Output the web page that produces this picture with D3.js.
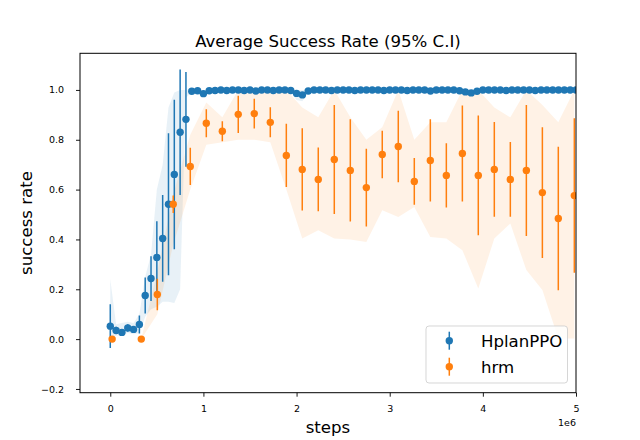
<!DOCTYPE html>
<html>
<head>
<meta charset="utf-8">
<script src="https://cdn.jsdelivr.net/npm/d3@7"></script>
<style>
  html, body { margin: 0; padding: 0; background: #fff; }
  svg { display: block; font-family: "DejaVu Sans", sans-serif; }
</style>
</head>
<body>
<svg id="chart" width="640" height="440"></svg>
<script>
// ---------------- DATA ----------------
const seriesNames = ["HplanPPO", "hrm"];

// HplanPPO evaluation steps
const hplanSteps = [
  0, 62500, 125000, 187500, 250000, 312500, 375000, 437500, 500000, 562500,
  625000, 687500, 750000, 812500, 875000, 937500, 1000000, 1062500, 1125000, 1187500,
  1250000, 1312500, 1375000, 1437500, 1500000, 1562500, 1625000, 1687500, 1750000, 1812500,
  1875000, 1937500, 2000000, 2062500, 2125000, 2187500, 2250000, 2312500, 2375000, 2437500,
  2500000, 2562500, 2625000, 2687500, 2750000, 2812500, 2875000, 2937500, 3000000, 3062500,
  3125000, 3187500, 3250000, 3312500, 3375000, 3437500, 3500000, 3562500, 3625000, 3687500,
  3750000, 3812500, 3875000, 3937500, 4000000, 4062500, 4125000, 4187500, 4250000, 4312500,
  4375000, 4437500, 4500000, 4562500, 4625000, 4687500, 4750000, 4812500, 4875000, 4937500,
  5000000
];
const hplanMean = [
  0.052, 0.035, 0.027, 0.045, 0.039, 0.059, 0.175, 0.243, 0.328, 0.404,
  0.541, 0.661, 0.830, 0.882, 0.995, 0.997, 0.985, 0.997, 0.998, 1.0,
  0.998, 1.0, 1.0, 0.998, 1.0, 0.996, 1.0, 1.0, 0.998, 1.0,
  1.0, 0.998, 0.986, 0.980, 0.996, 1.0, 1.0, 1.0, 0.998, 1.0,
  1.0, 1.0, 0.998, 1.0, 1.0, 1.0, 1.0, 0.998, 1.0, 1.0,
  1.0, 0.998, 1.0, 1.0, 1.0, 0.996, 1.0, 1.0, 1.0, 1.0,
  0.997, 0.992, 0.988, 0.995, 1.0, 1.0, 1.0, 1.0, 0.998, 1.0,
  1.0, 1.0, 1.0, 0.998, 1.0, 1.0, 1.0, 1.0, 1.0, 1.0,
  1.0
];
// half width of the 95% C.I. error bar
const hplanErr = [
  0.088, 0.015, 0.013, 0.015, 0.014, 0.036, 0.072, 0.090, 0.145, 0.174,
  0.285, 0.300, 0.252, 0.190, 0.006, 0.005, 0.010, 0.005, 0.004, 0.003,
  0.004, 0.003, 0.003, 0.004, 0.003, 0.005, 0.003, 0.003, 0.004, 0.003,
  0.003, 0.004, 0.012, 0.012, 0.005, 0.003, 0.003, 0.003, 0.004, 0.003,
  0.003, 0.003, 0.004, 0.003, 0.003, 0.003, 0.003, 0.004, 0.003, 0.003,
  0.003, 0.004, 0.003, 0.003, 0.003, 0.005, 0.003, 0.003, 0.003, 0.003,
  0.004, 0.008, 0.010, 0.006, 0.003, 0.003, 0.003, 0.003, 0.004, 0.003,
  0.003, 0.003, 0.003, 0.004, 0.003, 0.003, 0.003, 0.003, 0.003, 0.003,
  0.003
];
// shaded band (lower / upper)
const hplanBandLow = [
  0.000, 0.015, 0.015, 0.025, 0.020, 0.025, 0.090, 0.120, 0.130, 0.150,
  0.150, 0.145, 0.200, 0.970, 0.990, 0.990, 0.970, 0.990, 0.992, 0.995,
  0.992, 0.995, 0.995, 0.992, 0.995, 0.990, 0.995, 0.995, 0.992, 0.995,
  0.995, 0.992, 0.960, 0.955, 0.990, 0.995, 0.995, 0.995, 0.992, 0.995,
  0.995, 0.995, 0.992, 0.995, 0.995, 0.995, 0.995, 0.992, 0.995, 0.995,
  0.995, 0.992, 0.995, 0.995, 0.995, 0.990, 0.995, 0.995, 0.995, 0.995,
  0.992, 0.980, 0.975, 0.988, 0.995, 0.995, 0.995, 0.995, 0.992, 0.995,
  0.995, 0.995, 0.995, 0.992, 0.995, 0.995, 0.995, 0.995, 0.995, 0.995,
  0.995
];
const hplanBandHigh = [
  0.240, 0.060, 0.065, 0.070, 0.065, 0.100, 0.250, 0.340, 0.600, 0.700,
  0.930, 0.990, 1.000, 1.000, 1.000, 1.000, 1.000, 1.000, 1.000, 1.000,
  1.000, 1.000, 1.000, 1.000, 1.000, 1.000, 1.000, 1.000, 1.000, 1.000,
  1.000, 1.000, 1.000, 1.000, 1.000, 1.000, 1.000, 1.000, 1.000, 1.000,
  1.000, 1.000, 1.000, 1.000, 1.000, 1.000, 1.000, 1.000, 1.000, 1.000,
  1.000, 1.000, 1.000, 1.000, 1.000, 1.000, 1.000, 1.000, 1.000, 1.000,
  1.000, 1.000, 1.000, 1.000, 1.000, 1.000, 1.000, 1.000, 1.000, 1.000,
  1.000, 1.000, 1.000, 1.000, 1.000, 1.000, 1.000, 1.000, 1.000, 1.000,
  1.000
];

// hrm evaluation steps
const hrmSteps = [
  20000, 333000, 505000, 676000, 859000, 1031000, 1203000, 1374000, 1546000, 1718000,
  1890000, 2061000, 2233000, 2405000, 2577000, 2749000, 2920000, 3092000, 3264000, 3436000,
  3608000, 3780000, 3951000, 4123000, 4295000, 4467000, 4639000, 4810000, 4982000
];
const hrmMean = [
  0.000, 0.000, 0.179, 0.541, 0.693, 0.866, 0.834, 0.902, 0.905, 0.870,
  0.737, 0.681, 0.641, 0.721, 0.677, 0.608, 0.741, 0.773, 0.633, 0.717,
  0.657, 0.745, 0.657, 0.681, 0.641, 0.677, 0.588, 0.484, 0.576
];
const hrmErr = [
  0.000, 0.000, 0.063, 0.035, 0.075, 0.056, 0.040, 0.075, 0.060, 0.060,
  0.127, 0.165, 0.128, 0.219, 0.205, 0.156, 0.095, 0.143, 0.094, 0.165,
  0.129, 0.193, 0.240, 0.190, 0.150, 0.263, 0.262, 0.288, 0.310
];
const hrmBandLow = [
  0.000, 0.000, 0.100, 0.380, 0.600, 0.780, 0.790, 0.800, 0.800, 0.790,
  0.600, 0.404, 0.437, 0.404, 0.400, 0.390, 0.517, 0.490, 0.530, 0.410,
  0.404, 0.357, 0.203, 0.404, 0.464, 0.277, 0.197, 0.003, 0.003
];
const hrmBandHigh = [
  0.000, 0.000, 0.270, 0.580, 0.820, 0.950, 0.890, 1.000, 1.000, 1.000,
  1.000, 0.930, 0.890, 1.000, 0.890, 0.800, 0.850, 1.000, 0.800, 0.870,
  0.870, 1.000, 1.000, 0.930, 0.890, 1.000, 0.940, 0.870, 1.000
];

const xTickValues = [0, 1000000, 2000000, 3000000, 4000000, 5000000];
const xTickLabels = ["0", "1", "2", "3", "4", "5"];
const yTickValues = [-0.2, 0.0, 0.2, 0.4, 0.6, 0.8, 1.0];
const yTickLabels = ["\u22120.2", "0.0", "0.2", "0.4", "0.6", "0.8", "1.0"];

const titleText = "Average Success Rate (95% C.I)";
const xLabelText = "steps";
const yLabelText = "success rate";
const offsetText = "1e6";

// ---------------- LAYOUT ----------------
const colors = ["#1f77b4", "#ff7f0e"];
const plot = { left: 80, right: 576, top: 53.3, bottom: 392.7 };
const bigFont = "16.6px";
const smallFont = "9.5px";

const svg = d3.select("#chart");

const x = d3.scaleLinear().domain([-325000, 5000000]).range([plot.left, plot.right]);
const y = d3.scaleLinear().domain([-0.215, 1.147]).range([plot.bottom, plot.top]);

svg.append("defs").append("clipPath").attr("id", "clip")
  .append("rect")
  .attr("x", plot.left).attr("y", plot.top)
  .attr("width", plot.right - plot.left).attr("height", plot.bottom - plot.top);

const data = svg.append("g").attr("clip-path", "url(#clip)");

const series = [
  { steps: hplanSteps, mean: hplanMean, err: hplanErr, lo: hplanBandLow, hi: hplanBandHigh, color: colors[0] },
  { steps: hrmSteps, mean: hrmMean, err: hrmErr, lo: hrmBandLow, hi: hrmBandHigh, color: colors[1] }
];

const area = d3.area()
  .x(d => x(d.s))
  .y0(d => y(d.lo))
  .y1(d => y(d.hi));

// bands first (below everything)
series.forEach(sr => {
  const pts = sr.steps.map((s, i) => ({ s, lo: sr.lo[i], hi: sr.hi[i] }));
  data.append("path")
    .datum(pts)
    .attr("d", area)
    .attr("fill", sr.color)
    .attr("fill-opacity", 0.1)
    .attr("stroke", "none");
});

// error bars and markers
series.forEach(sr => {
  const pts = sr.steps.map((s, i) => ({ s, m: sr.mean[i], e: sr.err[i] }));
  const g = data.append("g");
  g.selectAll("line.eb").data(pts).join("line")
    .attr("class", "eb")
    .attr("x1", d => x(d.s)).attr("x2", d => x(d.s))
    .attr("y1", d => y(d.m - d.e)).attr("y2", d => y(d.m + d.e))
    .attr("stroke", sr.color).attr("stroke-width", 1.5);
  g.selectAll("circle").data(pts).join("circle")
    .attr("cx", d => x(d.s)).attr("cy", d => y(d.m))
    .attr("r", 3.7)
    .attr("fill", sr.color);
});

// ---------------- AXES ----------------
const xAxis = d3.axisBottom(x)
  .tickValues(xTickValues)
  .tickFormat((d, i) => xTickLabels[i])
  .tickSizeInner(4).tickSizeOuter(0).tickPadding(8.5);
const yAxis = d3.axisLeft(y)
  .tickValues(yTickValues)
  .tickFormat((d, i) => yTickLabels[i])
  .tickSizeInner(4).tickSizeOuter(0).tickPadding(12);

const gx = svg.append("g").attr("transform", `translate(0,${plot.bottom})`).call(xAxis);
const gy = svg.append("g").attr("transform", `translate(${plot.left},0)`).call(yAxis);
[gx, gy].forEach(g => {
  g.select(".domain").remove();
  g.selectAll(".tick line").attr("stroke", "#000").attr("stroke-width", 0.9);
  g.selectAll(".tick text").attr("fill", "#000")
    .style("font-family", "DejaVu Sans").style("font-size", smallFont);
});

// frame
svg.append("rect")
  .attr("x", plot.left).attr("y", plot.top)
  .attr("width", plot.right - plot.left).attr("height", plot.bottom - plot.top)
  .attr("fill", "none").attr("stroke", "#000").attr("stroke-width", 1);

// texts
svg.append("text")
  .attr("x", (plot.left + plot.right) / 2).attr("y", 46.5)
  .attr("text-anchor", "middle")
  .style("font-size", bigFont)
  .text(titleText);

svg.append("text")
  .attr("x", (plot.left + plot.right) / 2).attr("y", 432.5)
  .attr("text-anchor", "middle")
  .style("font-size", bigFont)
  .text(xLabelText);

svg.append("text")
  .attr("transform", `translate(31.5,${(plot.top + plot.bottom) / 2}) rotate(-90)`)
  .attr("text-anchor", "middle")
  .style("font-size", bigFont)
  .text(yLabelText);

svg.append("text")
  .attr("x", plot.right).attr("y", 426)
  .attr("text-anchor", "end")
  .style("font-size", smallFont)
  .text(offsetText);

// ---------------- LEGEND ----------------
const leg = svg.append("g");
leg.append("rect")
  .attr("x", 426).attr("y", 326).attr("width", 141.5).attr("height", 57)
  .attr("rx", 3).attr("ry", 3)
  .attr("fill", "#fff").attr("fill-opacity", 0.8)
  .attr("stroke", "#cccccc").attr("stroke-opacity", 0.8).attr("stroke-width", 1);

const legendRows = [340.7, 366.7];
seriesNames.forEach((name, i) => {
  const cy = legendRows[i];
  leg.append("line")
    .attr("x1", 449.3).attr("x2", 449.3)
    .attr("y1", cy - 9).attr("y2", cy + 9)
    .attr("stroke", colors[i]).attr("stroke-width", 1.5);
  leg.append("circle")
    .attr("cx", 449.3).attr("cy", cy).attr("r", 3.7)
    .attr("fill", colors[i]);
  leg.append("text")
    .attr("x", 481).attr("y", cy + 5.8)
    .style("font-size", bigFont)
    .text(name);
});
</script>
</body>
</html>
